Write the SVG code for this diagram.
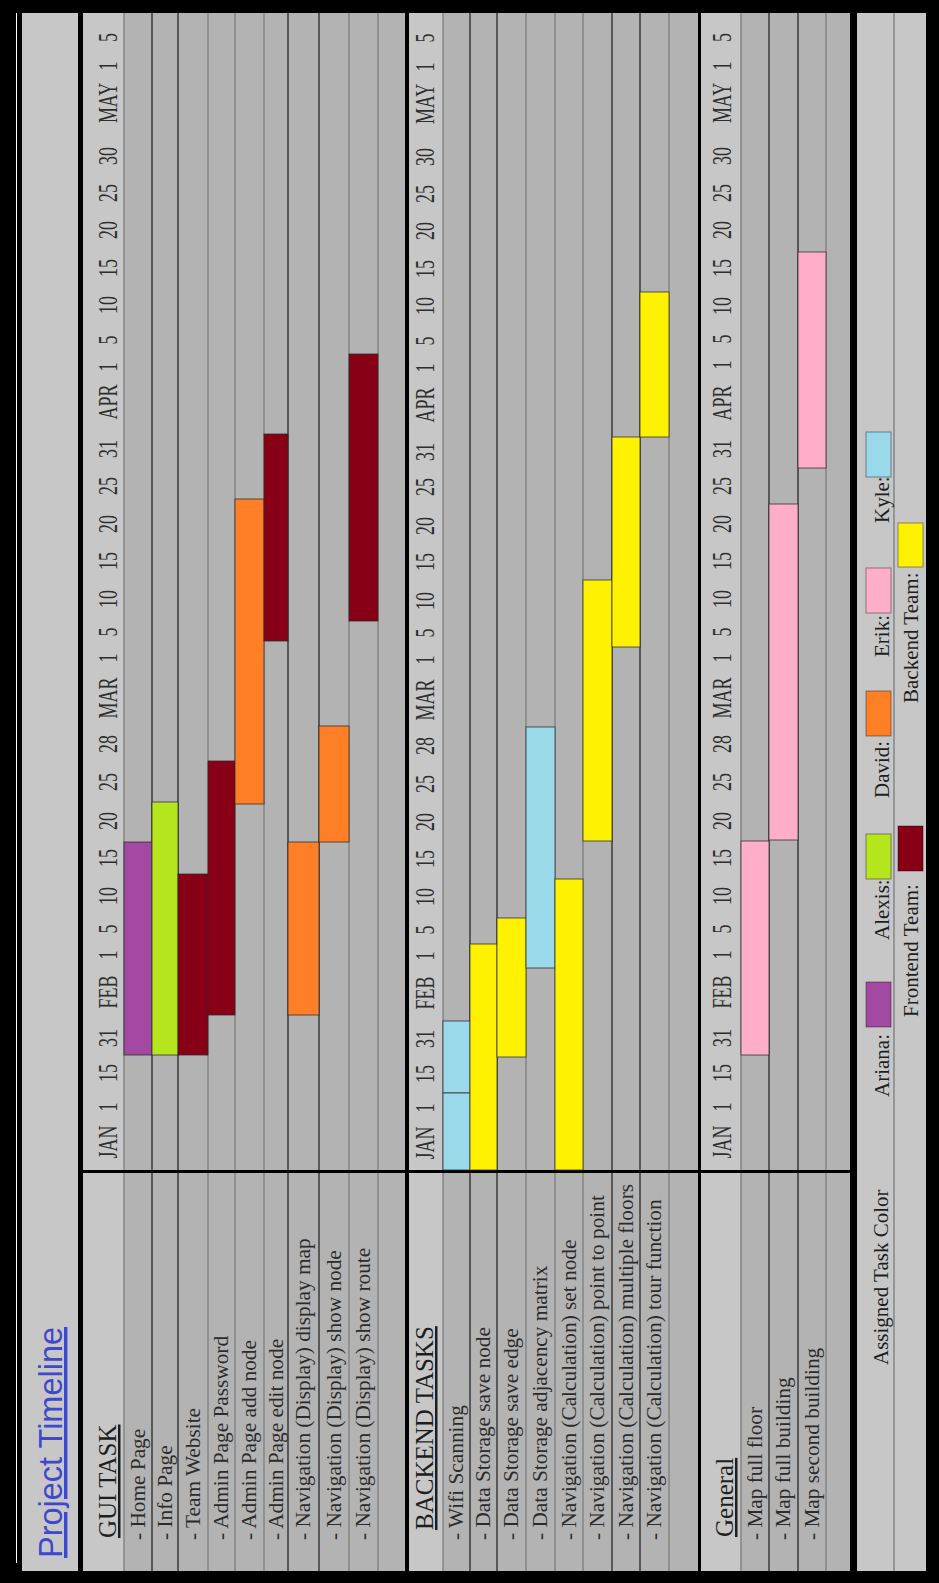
<svg xmlns="http://www.w3.org/2000/svg" width="939" height="1583" viewBox="0 0 939 1583">
<style>
.hd{fill:#c7c7c7}
.row{fill:#b3b3b3}
.ln{stroke:#858585;stroke-width:1.5}
.dk{stroke:#3a3a3a;stroke-width:1.5}
.bar{stroke:#2a2a2a;stroke-width:1;stroke-opacity:0.75}
.sw{stroke:#000;stroke-opacity:0.4;stroke-width:1}
.task{font-family:"Liberation Serif",serif;font-size:21.3px;fill:#2b2b2b}
.sec{font-family:"Liberation Serif",serif;font-size:25px;fill:#1e1e1e;text-decoration:underline}
.dt{font-family:"Liberation Serif",serif;font-size:28px;fill:#2e2e2e;text-anchor:middle}
.lg{font-family:"Liberation Serif",serif;font-size:21px;fill:#1e1e1e}
.pu{fill:#a349a4}.gr{fill:#b5e61d}.rd{fill:#880015}.or{fill:#ff7f27}.pk{fill:#ffaec9}.bl{fill:#99d9ea}.ye{fill:#fff200}
</style>
<rect x="0" y="0" width="939" height="1583" fill="#000"/>
<line x1="16.5" y1="13" x2="16.5" y2="1563" stroke="#fff" stroke-width="1"/>
<g id="background">
<rect x="22" y="13" width="56" height="1558" class="hd"/>
<rect x="83" y="13" width="41" height="1558" class="hd"/>
<rect x="124" y="13" width="281" height="1558" class="row"/>
<rect x="409" y="13" width="34" height="1558" class="hd"/>
<rect x="443" y="13" width="255" height="1558" class="row"/>
<rect x="701" y="13" width="40" height="1558" class="hd"/>
<rect x="741" y="13" width="109" height="1558" class="row"/>
<rect x="857" y="13" width="69" height="1558" class="hd"/>
</g>
<g id="gridlines">
<line x1="124" y1="13" x2="124" y2="1571" class="ln"/>
<line x1="152" y1="13" x2="152" y2="1571" class="dk"/>
<line x1="178" y1="13" x2="178" y2="1571" class="dk"/>
<line x1="208" y1="13" x2="208" y2="1571" class="ln"/>
<line x1="235" y1="13" x2="235" y2="1571" class="ln"/>
<line x1="264" y1="13" x2="264" y2="1571" class="ln"/>
<line x1="288" y1="13" x2="288" y2="1571" class="dk"/>
<line x1="319" y1="13" x2="319" y2="1571" class="dk"/>
<line x1="349" y1="13" x2="349" y2="1571" class="ln"/>
<line x1="378" y1="13" x2="378" y2="1571" class="ln"/>
<line x1="443" y1="13" x2="443" y2="1571" class="ln"/>
<line x1="470" y1="13" x2="470" y2="1571" class="dk"/>
<line x1="497" y1="13" x2="497" y2="1571" class="dk"/>
<line x1="526" y1="13" x2="526" y2="1571" class="ln"/>
<line x1="555" y1="13" x2="555" y2="1571" class="ln"/>
<line x1="583" y1="13" x2="583" y2="1571" class="ln"/>
<line x1="612" y1="13" x2="612" y2="1571" class="dk"/>
<line x1="640" y1="13" x2="640" y2="1571" class="dk"/>
<line x1="669" y1="13" x2="669" y2="1571" class="ln"/>
<line x1="741" y1="13" x2="741" y2="1571" class="ln"/>
<line x1="769" y1="13" x2="769" y2="1571" class="dk"/>
<line x1="798" y1="13" x2="798" y2="1571" class="dk"/>
<line x1="826" y1="13" x2="826" y2="1571" class="ln"/>
<line x1="894" y1="13" x2="894" y2="1571" class="ln"/>
<rect x="83" y="1170" width="767" height="3" fill="#000"/>
</g>
<g id="title">
<text transform="translate(62 1558) rotate(-90)" font-family="Liberation Sans, sans-serif" font-size="34" fill="#3f48cc" text-decoration="underline" textLength="231" lengthAdjust="spacingAndGlyphs">Project Timeline</text>
</g>
<g id="gui-section">
<g id="gui-bars">
<rect x="124" y="842" width="28" height="213" class="bar pu"/>
<rect x="152" y="802" width="26" height="253" class="bar gr"/>
<rect x="178" y="874" width="30" height="181" class="bar rd"/>
<rect x="208" y="761" width="27" height="254" class="bar rd"/>
<rect x="235" y="499" width="29" height="305" class="bar or"/>
<rect x="264" y="434" width="24" height="207" class="bar rd"/>
<rect x="288" y="842" width="31" height="173" class="bar or"/>
<rect x="319" y="726" width="30" height="116" class="bar or"/>
<rect x="349" y="354" width="29" height="267" class="bar rd"/>
</g>
<g id="gui-dates">
<text class="dt" transform="translate(117 1142) rotate(-90) scale(0.64 1)">JAN</text>
<text class="dt" transform="translate(117 1107) rotate(-90) scale(0.64 1)">1</text>
<text class="dt" transform="translate(117 1073) rotate(-90) scale(0.64 1)">15</text>
<text class="dt" transform="translate(117 1038) rotate(-90) scale(0.64 1)">31</text>
<text class="dt" transform="translate(117 992) rotate(-90) scale(0.64 1)">FEB</text>
<text class="dt" transform="translate(117 955) rotate(-90) scale(0.64 1)">1</text>
<text class="dt" transform="translate(117 929) rotate(-90) scale(0.64 1)">5</text>
<text class="dt" transform="translate(117 896) rotate(-90) scale(0.64 1)">10</text>
<text class="dt" transform="translate(117 858) rotate(-90) scale(0.64 1)">15</text>
<text class="dt" transform="translate(117 821) rotate(-90) scale(0.64 1)">20</text>
<text class="dt" transform="translate(117 782) rotate(-90) scale(0.64 1)">25</text>
<text class="dt" transform="translate(117 744) rotate(-90) scale(0.64 1)">28</text>
<text class="dt" transform="translate(117 698) rotate(-90) scale(0.64 1)">MAR</text>
<text class="dt" transform="translate(117 658) rotate(-90) scale(0.64 1)">1</text>
<text class="dt" transform="translate(117 632) rotate(-90) scale(0.64 1)">5</text>
<text class="dt" transform="translate(117 599) rotate(-90) scale(0.64 1)">10</text>
<text class="dt" transform="translate(117 561) rotate(-90) scale(0.64 1)">15</text>
<text class="dt" transform="translate(117 524) rotate(-90) scale(0.64 1)">20</text>
<text class="dt" transform="translate(117 486) rotate(-90) scale(0.64 1)">25</text>
<text class="dt" transform="translate(117 449) rotate(-90) scale(0.64 1)">31</text>
<text class="dt" transform="translate(117 402) rotate(-90) scale(0.64 1)">APR</text>
<text class="dt" transform="translate(117 367) rotate(-90) scale(0.64 1)">1</text>
<text class="dt" transform="translate(117 340) rotate(-90) scale(0.64 1)">5</text>
<text class="dt" transform="translate(117 305) rotate(-90) scale(0.64 1)">10</text>
<text class="dt" transform="translate(117 268) rotate(-90) scale(0.64 1)">15</text>
<text class="dt" transform="translate(117 230) rotate(-90) scale(0.64 1)">20</text>
<text class="dt" transform="translate(117 193) rotate(-90) scale(0.64 1)">25</text>
<text class="dt" transform="translate(117 156) rotate(-90) scale(0.64 1)">30</text>
<text class="dt" transform="translate(117 103) rotate(-90) scale(0.64 1)">MAY</text>
<text class="dt" transform="translate(117 66) rotate(-90) scale(0.64 1)">1</text>
<text class="dt" transform="translate(117 37.5) rotate(-90) scale(0.64 1)">5</text>
</g>
<g id="gui-labels">
<text class="sec" transform="translate(116 1538) rotate(-90)">GUI TASK</text>
<text class="task" transform="translate(144.5 1540) rotate(-90)">- Home Page</text>
<text class="task" transform="translate(171.5 1540) rotate(-90)">- Info Page</text>
<text class="task" transform="translate(199.5 1540) rotate(-90)">- Team Website</text>
<text class="task" transform="translate(228 1540) rotate(-90)">- Admin Page Password</text>
<text class="task" transform="translate(256 1540) rotate(-90)">- Admin Page add node</text>
<text class="task" transform="translate(282.5 1540) rotate(-90)">- Admin Page edit node</text>
<text class="task" transform="translate(310 1540) rotate(-90)">- Navigation (Display) display map</text>
<text class="task" transform="translate(340.5 1540) rotate(-90)">- Navigation (Display) show node</text>
<text class="task" transform="translate(370 1540) rotate(-90)">- Navigation (Display) show route</text>
</g>
</g>
<g id="backend-section">
<g id="backend-bars">
<rect x="443" y="1021" width="27" height="72" class="bar bl"/>
<rect x="443" y="1093" width="27" height="77" class="bar bl"/>
<rect x="470" y="944" width="27" height="226" class="bar ye"/>
<rect x="497" y="918" width="29" height="139" class="bar ye"/>
<rect x="526" y="727" width="29" height="241" class="bar bl"/>
<rect x="555" y="879" width="28" height="291" class="bar ye"/>
<rect x="583" y="580" width="29" height="261" class="bar ye"/>
<rect x="612" y="437" width="28" height="210" class="bar ye"/>
<rect x="640" y="292" width="29" height="145" class="bar ye"/>
</g>
<g id="backend-dates">
<text class="dt" transform="translate(434 1143) rotate(-90) scale(0.64 1)">JAN</text>
<text class="dt" transform="translate(434 1108) rotate(-90) scale(0.64 1)">1</text>
<text class="dt" transform="translate(434 1074) rotate(-90) scale(0.64 1)">15</text>
<text class="dt" transform="translate(434 1039) rotate(-90) scale(0.64 1)">31</text>
<text class="dt" transform="translate(434 993) rotate(-90) scale(0.64 1)">FEB</text>
<text class="dt" transform="translate(434 956) rotate(-90) scale(0.64 1)">1</text>
<text class="dt" transform="translate(434 930) rotate(-90) scale(0.64 1)">5</text>
<text class="dt" transform="translate(434 897) rotate(-90) scale(0.64 1)">10</text>
<text class="dt" transform="translate(434 859) rotate(-90) scale(0.64 1)">15</text>
<text class="dt" transform="translate(434 822) rotate(-90) scale(0.64 1)">20</text>
<text class="dt" transform="translate(434 784) rotate(-90) scale(0.64 1)">25</text>
<text class="dt" transform="translate(434 746) rotate(-90) scale(0.64 1)">28</text>
<text class="dt" transform="translate(434 700) rotate(-90) scale(0.64 1)">MAR</text>
<text class="dt" transform="translate(434 660) rotate(-90) scale(0.64 1)">1</text>
<text class="dt" transform="translate(434 633) rotate(-90) scale(0.64 1)">5</text>
<text class="dt" transform="translate(434 601) rotate(-90) scale(0.64 1)">10</text>
<text class="dt" transform="translate(434 562) rotate(-90) scale(0.64 1)">15</text>
<text class="dt" transform="translate(434 526) rotate(-90) scale(0.64 1)">20</text>
<text class="dt" transform="translate(434 487) rotate(-90) scale(0.64 1)">25</text>
<text class="dt" transform="translate(434 452) rotate(-90) scale(0.64 1)">31</text>
<text class="dt" transform="translate(434 405) rotate(-90) scale(0.64 1)">APR</text>
<text class="dt" transform="translate(434 368) rotate(-90) scale(0.64 1)">1</text>
<text class="dt" transform="translate(434 341) rotate(-90) scale(0.64 1)">5</text>
<text class="dt" transform="translate(434 306) rotate(-90) scale(0.64 1)">10</text>
<text class="dt" transform="translate(434 269) rotate(-90) scale(0.64 1)">15</text>
<text class="dt" transform="translate(434 231) rotate(-90) scale(0.64 1)">20</text>
<text class="dt" transform="translate(434 194) rotate(-90) scale(0.64 1)">25</text>
<text class="dt" transform="translate(434 157) rotate(-90) scale(0.64 1)">30</text>
<text class="dt" transform="translate(434 104) rotate(-90) scale(0.64 1)">MAY</text>
<text class="dt" transform="translate(434 67) rotate(-90) scale(0.64 1)">1</text>
<text class="dt" transform="translate(434 38) rotate(-90) scale(0.64 1)">5</text>
</g>
<g id="backend-labels">
<text class="sec" transform="translate(433 1530) rotate(-90)">BACKEND TASKS</text>
<text class="task" transform="translate(462.5 1540) rotate(-90)">- Wifi Scanning</text>
<text class="task" transform="translate(490 1540) rotate(-90)">- Data Storage save node</text>
<text class="task" transform="translate(518 1540) rotate(-90)">- Data Storage save edge</text>
<text class="task" transform="translate(547 1540) rotate(-90)">- Data Storage adjacency matrix</text>
<text class="task" transform="translate(575.5 1540) rotate(-90)">- Navigation (Calculation) set node</text>
<text class="task" transform="translate(604 1540) rotate(-90)">- Navigation (Calculation) point to point</text>
<text class="task" transform="translate(632.5 1540) rotate(-90)">- Navigation (Calculation) multiple floors</text>
<text class="task" transform="translate(661 1540) rotate(-90)">- Navigation (Calculation) tour function</text>
</g>
</g>
<g id="general-section">
<g id="general-bars">
<rect x="741" y="841" width="28" height="214" class="bar pk"/>
<rect x="769" y="504" width="29" height="336" class="bar pk"/>
<rect x="798" y="252" width="28" height="216" class="bar pk"/>
</g>
<g id="general-dates">
<text class="dt" transform="translate(731 1142) rotate(-90) scale(0.64 1)">JAN</text>
<text class="dt" transform="translate(731 1107) rotate(-90) scale(0.64 1)">1</text>
<text class="dt" transform="translate(731 1073) rotate(-90) scale(0.64 1)">15</text>
<text class="dt" transform="translate(731 1038) rotate(-90) scale(0.64 1)">31</text>
<text class="dt" transform="translate(731 992) rotate(-90) scale(0.64 1)">FEB</text>
<text class="dt" transform="translate(731 955) rotate(-90) scale(0.64 1)">1</text>
<text class="dt" transform="translate(731 929) rotate(-90) scale(0.64 1)">5</text>
<text class="dt" transform="translate(731 896) rotate(-90) scale(0.64 1)">10</text>
<text class="dt" transform="translate(731 858) rotate(-90) scale(0.64 1)">15</text>
<text class="dt" transform="translate(731 821) rotate(-90) scale(0.64 1)">20</text>
<text class="dt" transform="translate(731 782) rotate(-90) scale(0.64 1)">25</text>
<text class="dt" transform="translate(731 744) rotate(-90) scale(0.64 1)">28</text>
<text class="dt" transform="translate(731 698) rotate(-90) scale(0.64 1)">MAR</text>
<text class="dt" transform="translate(731 658) rotate(-90) scale(0.64 1)">1</text>
<text class="dt" transform="translate(731 632) rotate(-90) scale(0.64 1)">5</text>
<text class="dt" transform="translate(731 599) rotate(-90) scale(0.64 1)">10</text>
<text class="dt" transform="translate(731 561) rotate(-90) scale(0.64 1)">15</text>
<text class="dt" transform="translate(731 524) rotate(-90) scale(0.64 1)">20</text>
<text class="dt" transform="translate(731 486) rotate(-90) scale(0.64 1)">25</text>
<text class="dt" transform="translate(731 449) rotate(-90) scale(0.64 1)">31</text>
<text class="dt" transform="translate(731 403) rotate(-90) scale(0.64 1)">APR</text>
<text class="dt" transform="translate(731 365) rotate(-90) scale(0.64 1)">1</text>
<text class="dt" transform="translate(731 339) rotate(-90) scale(0.64 1)">5</text>
<text class="dt" transform="translate(731 306) rotate(-90) scale(0.64 1)">10</text>
<text class="dt" transform="translate(731 268) rotate(-90) scale(0.64 1)">15</text>
<text class="dt" transform="translate(731 230) rotate(-90) scale(0.64 1)">20</text>
<text class="dt" transform="translate(731 193) rotate(-90) scale(0.64 1)">25</text>
<text class="dt" transform="translate(731 156) rotate(-90) scale(0.64 1)">30</text>
<text class="dt" transform="translate(731 103) rotate(-90) scale(0.64 1)">MAY</text>
<text class="dt" transform="translate(731 66) rotate(-90) scale(0.64 1)">1</text>
<text class="dt" transform="translate(731 37.5) rotate(-90) scale(0.64 1)">5</text>
</g>
<g id="general-labels">
<text class="sec" transform="translate(733 1537) rotate(-90)">General</text>
<text class="task" transform="translate(761.5 1540) rotate(-90)">- Map full floor</text>
<text class="task" transform="translate(790 1540) rotate(-90)">- Map full building</text>
<text class="task" transform="translate(818.5 1540) rotate(-90)">- Map second building</text>
</g>
</g>
<g id="legend">
<text class="lg" transform="translate(888 1365) rotate(-90)">Assigned Task Color</text>
<text class="lg" transform="translate(889 1097) rotate(-90)">Ariana:</text>
<rect x="866" y="982" width="25" height="45" class="sw pu"/>
<text class="lg" transform="translate(889 940) rotate(-90)">Alexis:</text>
<rect x="866" y="834" width="25" height="45" class="sw gr"/>
<text class="lg" transform="translate(889 798) rotate(-90)">David:</text>
<rect x="866" y="691" width="25" height="45" class="sw or"/>
<text class="lg" transform="translate(889 657) rotate(-90)">Erik:</text>
<rect x="866" y="568" width="25" height="45" class="sw pk"/>
<text class="lg" transform="translate(889 523) rotate(-90)">Kyle:</text>
<rect x="866" y="432" width="25" height="45" class="sw bl"/>
<text class="lg" transform="translate(918 1017) rotate(-90)">Frontend Team:</text>
<rect x="898" y="826" width="25" height="45" class="sw rd"/>
<text class="lg" transform="translate(918 703) rotate(-90)">Backend Team:</text>
<rect x="898" y="523" width="25" height="44" class="sw ye"/>
</g>
</svg>
